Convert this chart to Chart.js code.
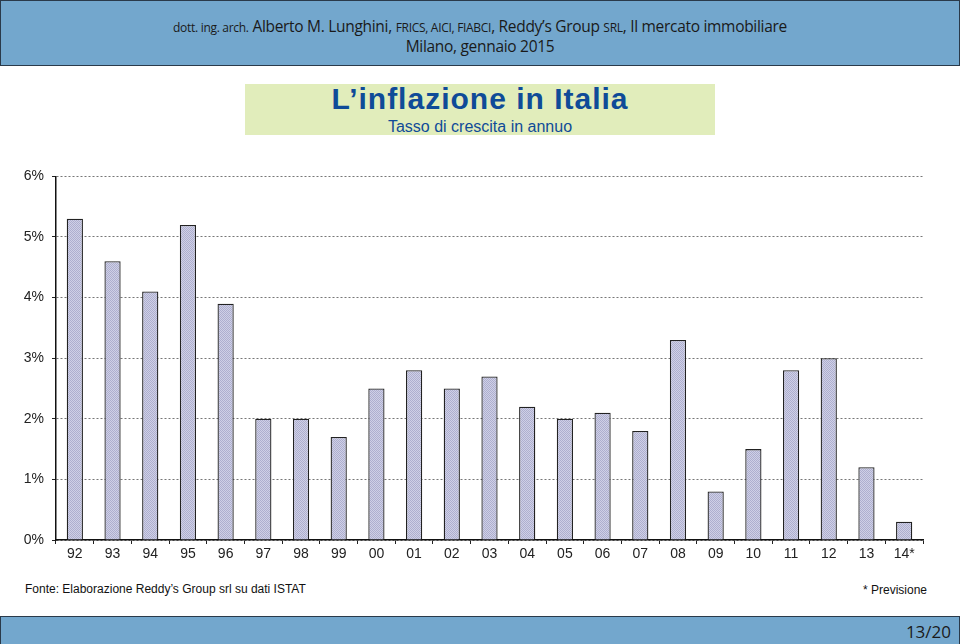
<!DOCTYPE html>
<html>
<head>
<meta charset="utf-8">
<script src="https://cdn.jsdelivr.net/npm/chart.js@4"></script>
<style>
  body { margin: 0; width: 960px; height: 644px; background: #fff; position: relative; overflow: hidden; font-family: Arial, "Liberation Sans", sans-serif; }
  #header { position: absolute; left: 0; top: 0; width: 958px; height: 64px; background: #73a7cd; border: 1px solid #2a3a4a; text-align: center; font-family: "Open Sans", sans-serif; color: #1a1a1a; }
  #header .l1 { position: absolute; top: 14px; width: 100%; font-size: 15.5px; letter-spacing: -0.3px; }
  #header .l2 { position: absolute; top: 34px; width: 100%; font-size: 15.5px; letter-spacing: -0.3px; }
  .sm { font-size: 12px; }
  #titlebox { position: absolute; left: 245px; top: 84px; width: 470px; height: 51px; background: #e1edbb; text-align: center; color: #0f4b98; }
  #titlebox .t { font-weight: bold; font-size: 30px; line-height: 30px; letter-spacing: 1px; }
  #titlebox .s { font-size: 16px; line-height: 18px; margin-top: 4px; }
  #chartwrap { position: absolute; left: 0; top: 160px; width: 960px; height: 410px; }
  #fonte { position: absolute; left: 25px; top: 582px; font-size: 12px; color: #111; }
  #prev { position: absolute; right: 33px; top: 583px; font-size: 12px; color: #111; }
  #footer { position: absolute; left: 0; top: 616px; width: 958px; height: 27px; background: #73a7cd; border: 1px solid #2a3a4a; }
  #footer span { position: absolute; right: 8px; top: 3px; font-family: "Open Sans", sans-serif; font-size: 17px; color: #1a1a1a; }
</style>
</head>
<body>
<div id="header">
  <div class="l1"><span class="sm">dott. ing. arch.</span> Alberto M. Lunghini, <span class="sm">FRICS, AICI, FIABCI</span>, Reddy’s Group <span class="sm">SRL</span>, Il mercato immobiliare</div>
  <div class="l2">Milano, gennaio 2015</div>
</div>
<div id="titlebox">
  <div class="t">L’inflazione in Italia</div>
  <div class="s">Tasso di crescita in annuo</div>
</div>
<div id="chartwrap"><canvas id="grafico" width="960" height="410"></canvas></div>
<div id="fonte">Fonte: Elaborazione Reddy’s Group srl su dati ISTAT</div>
<div id="prev">* Previsione</div>
<div id="footer"><span>13/20</span></div>
<script>
// Anni e tasso d'inflazione (%)
const anni = ['92', '93', '94', '95', '96', '97', '98', '99', '00', '01', '02', '03', '04', '05', '06', '07', '08', '09', '10', '11', '12', '13', '14*'];
const inflazione = [5.3, 4.6, 4.1, 5.2, 3.9, 2.0, 2.0, 1.7, 2.5, 2.8, 2.5, 2.7, 2.2, 2.0, 2.1, 1.8, 3.3, 0.8, 1.5, 2.8, 3.0, 1.2, 0.3];
const tickY = [0, 1, 2, 3, 4, 5, 6];

// retino puntinato per le barre
const pc = document.createElement('canvas');
pc.width = 2; pc.height = 2;
const pctx = pc.getContext('2d');
pctx.fillStyle = '#cfd0e6'; pctx.fillRect(0, 0, 2, 2);
pctx.fillStyle = '#aeafcf'; pctx.fillRect(0, 0, 1, 1); pctx.fillRect(1, 1, 1, 1);

const ctx = document.getElementById('grafico').getContext('2d');
const retino = ctx.createPattern(pc, 'repeat');

new Chart(ctx, {
    type: 'bar',
    data: {
        labels: anni,
        datasets: [{
            data: inflazione,
            backgroundColor: retino,
            borderColor: '#222',
            borderWidth: 1.3,
            borderSkipped: 'bottom',
            categoryPercentage: 1,
            barPercentage: 0.43
        }]
    },
    options: {
        responsive: false,
        animation: false,
        layout: { padding: { top: 13, right: 37, left: 0, bottom: 0 } },
        plugins: { legend: { display: false }, tooltip: { enabled: false } },
        scales: {
            x: {
                afterFit: s => { s.height = 30; },
                grid: { display: true, drawOnChartArea: false, offset: true, tickLength: 4, color: '#222' },
                border: { color: '#111', width: 1.5 },
                ticks: { color: '#222', font: { family: 'Arial', size: 14 }, padding: 2, maxRotation: 0, autoSkip: false }
            },
            y: {
                min: 0, max: 6,
                afterFit: s => { s.width = 56; },
                afterBuildTicks: s => { s.ticks = tickY.map(v => ({ value: v })); },
                grid: { color: '#777', lineWidth: 1, tickLength: 4, tickColor: '#222', drawTicks: true },
                border: { color: '#111', width: 1.5, dash: [2, 2] }, // griglia puntinata
                ticks: { color: '#222', font: { family: 'Arial', size: 14 }, padding: 8, callback: v => v + '%' }
            }
        }
    }
});
</script>
</body>
</html>
